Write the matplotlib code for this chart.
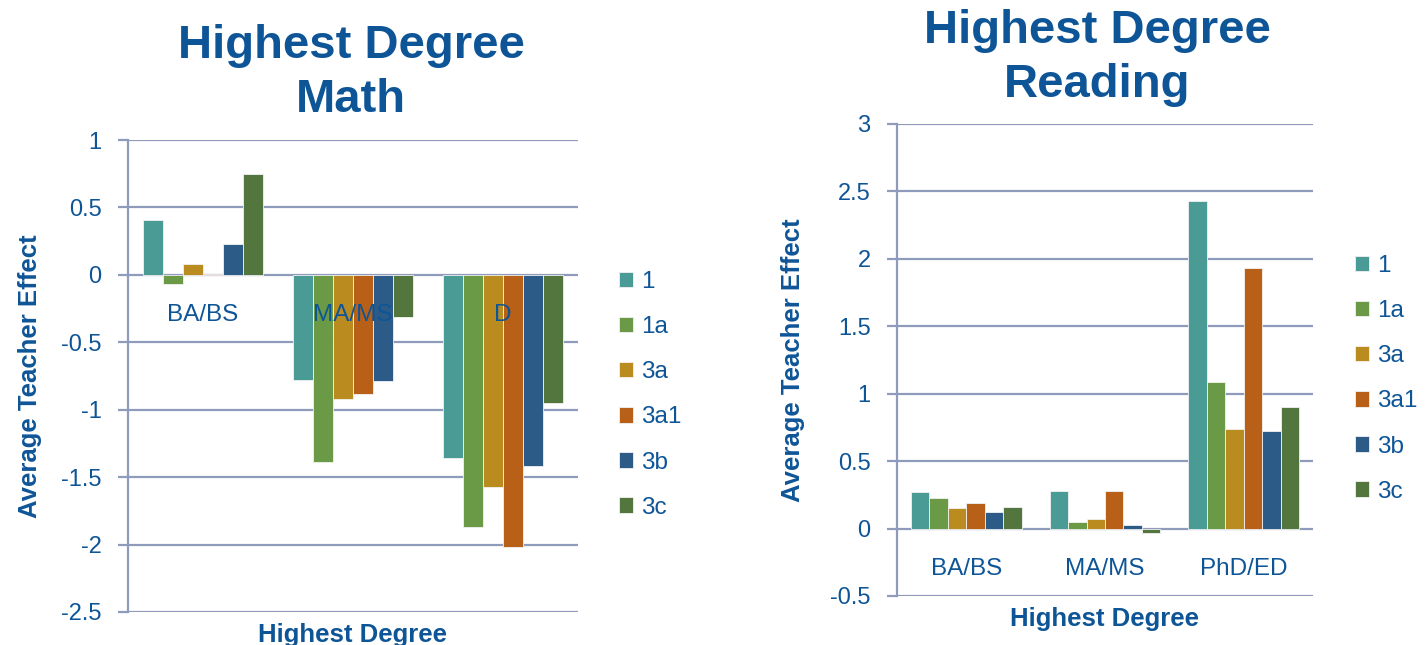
import matplotlib
matplotlib.use("Agg")
import matplotlib.pyplot as plt
import numpy as np

plt.rcParams['font.family'] = ['Liberation Sans', 'DejaVu Sans']

series = ["1", "1a", "3a", "3a1", "3b", "3c"]
colors = ["#4A9A96", "#6A9A45", "#BA8C1F", "#B85F18", "#2C5B87", "#53763E"]

math_categories = ["BA/BS", "MA/MS", "D"]
math_values = {
    "1":   [0.41, -0.78, -1.36],
    "1a":  [-0.07, -1.39, -1.87],
    "3a":  [0.08, -0.92, -1.57],
    "3a1": [0.01, -0.88, -2.02],
    "3b":  [0.23, -0.79, -1.42],
    "3c":  [0.75, -0.31, -0.95],
}
math_ticks = [1, 0.5, 0, -0.5, -1, -1.5, -2, -2.5]
math_ticklabels = ["1", "0.5", "0", "-0.5", "-1", "-1.5", "-2", "-2.5"]

reading_categories = ["BA/BS", "MA/MS", "PhD/ED"]
reading_values = {
    "1":   [0.27, 0.28, 2.43],
    "1a":  [0.23, 0.05, 1.09],
    "3a":  [0.15, 0.07, 0.74],
    "3a1": [0.19, 0.28, 1.93],
    "3b":  [0.12, 0.03, 0.72],
    "3c":  [0.16, -0.03, 0.90],
}
reading_ticks = [3, 2.5, 2, 1.5, 1, 0.5, 0, -0.5]
reading_ticklabels = ["3", "2.5", "2", "1.5", "1", "0.5", "0", "-0.5"]

TEXT = "#0E5597"
GRID = "#8E9BBB"

fig = plt.figure(figsize=(14.28, 6.45), dpi=100)


def draw_panel(ax, categories, values, ticks, ticklabels, ylim, title, title_xy,
               legend_anchor):
    n = len(series)
    width = 0.8 / n
    x = np.arange(len(categories))
    for i, s in enumerate(series):
        ax.bar(x - 0.4 + width * (i + 0.5), values[s], width=width,
               color=colors[i], edgecolor="#F2F2F2", linewidth=0.6,
               label=s, zorder=3)
    ax.set_xlim(-0.5, len(categories) - 0.5)
    ax.set_ylim(*ylim)
    ax.set_yticks(ticks)
    ax.set_yticklabels(ticklabels)
    ax.yaxis.grid(True, color=GRID, linewidth=1.6, zorder=0)
    ax.set_axisbelow(True)
    ax.set_xticks([])
    for sp in ["top", "right", "bottom"]:
        ax.spines[sp].set_visible(False)
    ax.spines["left"].set_color(GRID)
    ax.spines["left"].set_linewidth(1.6)
    ax.tick_params(axis="y", length=7, width=1.6, color=GRID, pad=12,
                   labelsize=17, labelcolor=TEXT)
    for i, c in enumerate(categories):
        ax.annotate(c, xy=(i, 0), xytext=(0, -40), textcoords="offset pixels",
                    ha="center", va="center", fontsize=17.5, color=TEXT,
                    zorder=5)
    ax.set_ylabel("Average Teacher Effect", fontsize=18.5, fontweight="bold",
                  color=TEXT)
    ax.set_xlabel("Highest Degree", fontsize=18.5, fontweight="bold",
                  color=TEXT, labelpad=8)
    fig.text(title_xy[0], title_xy[1], title, ha="center", va="center",
             fontsize=34, fontweight="bold", color=TEXT, linespacing=1.32)
    leg = ax.legend(loc="center left", bbox_to_anchor=legend_anchor,
                    frameon=False, fontsize=17.5, handlelength=0.6,
                    handleheight=0.6, handletextpad=0.3, labelspacing=0.95)
    for t in leg.get_texts():
        t.set_color(TEXT)
    return ax


ax1 = fig.add_axes([128 / 1428, 33 / 645, 450 / 1428, 472 / 645])
draw_panel(ax1, math_categories, math_values, math_ticks, math_ticklabels,
           (-2.5, 1), "Highest Degree\nMath", (351 / 1428, 1 - 73 / 645),
           (1.042, 0.46))
ax1.yaxis.set_label_coords(-0.19, 0.5)

ax2 = fig.add_axes([897 / 1428, 49 / 645, 416 / 1428, 472 / 645])
draw_panel(ax2, reading_categories, reading_values, reading_ticks,
           reading_ticklabels, (-0.5, 3), "Highest Degree\nReading",
           (1097 / 1428, 1 - 58 / 645), (1.048, 0.46))
ax2.yaxis.set_label_coords(-0.222, 0.5)

fig.savefig("out.png", dpi=100)
